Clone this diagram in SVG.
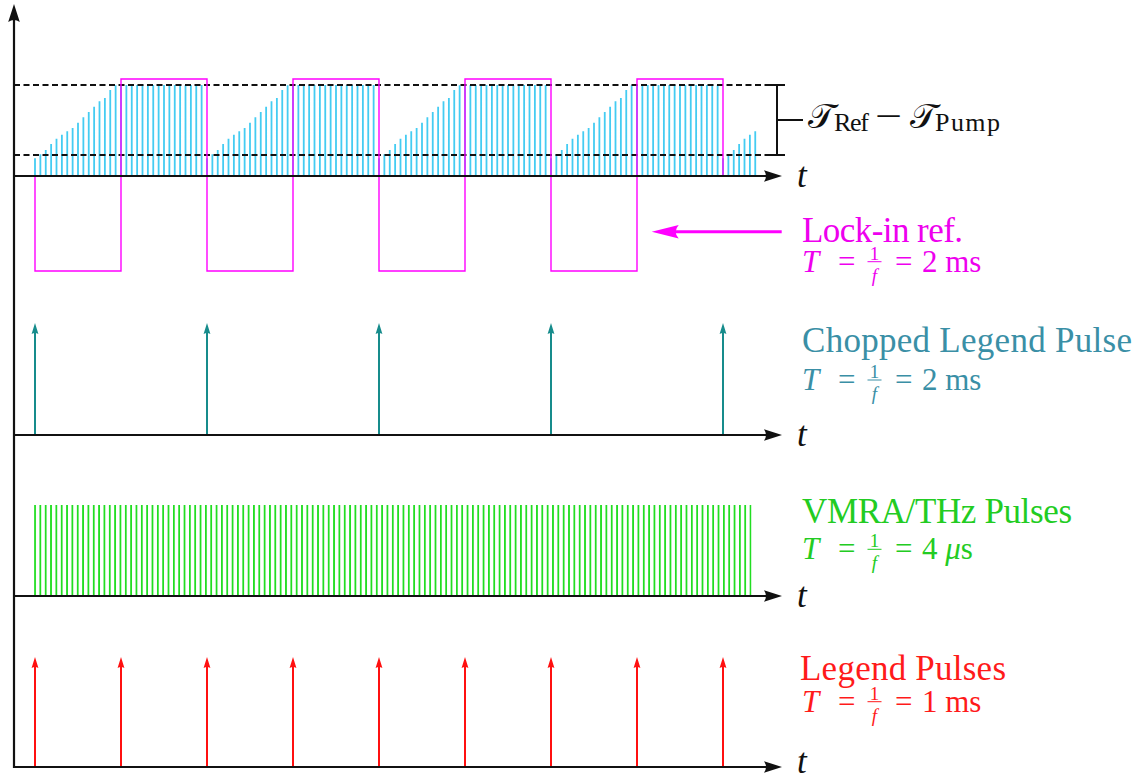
<svg xmlns="http://www.w3.org/2000/svg" width="1141" height="781" viewBox="0 0 1141 781">
  <style>
    .axis{stroke:#111;stroke-width:2.2;fill:none}
    .dash{stroke:#111;stroke-width:2;stroke-dasharray:6 3.5;fill:none}
    .solid{stroke:#111;stroke-width:2;fill:none}
    .serif{font-family:"Liberation Serif","Times New Roman",serif}
    .lbl{font-size:35px}
    .math{font-size:31px}
    .frac{font-size:19px}
    .it{font-style:italic}
    .tlab{font-size:35px;font-style:italic;fill:#111}
    .cal{font-family:"DejaVu Serif","DejaVu Sans","Noto Sans",serif;font-size:35px;fill:#111}
    .sub{font-size:26px;fill:#111}
    .mag{fill:#ee00ee}
    .teal{fill:#3a8fa6}
    .grn{fill:#22cc22}
    .red{fill:#ff1a1a}
  </style>
  <defs>
    <marker id="axHead" markerUnits="userSpaceOnUse" viewBox="-20 -10 30 20" markerWidth="30" markerHeight="20" refX="0" refY="0" orient="auto">
      <path d="M6,0 L-12,-5.8 Q-8,0 -12,5.8 Z" fill="#111"/>
    </marker>
    <marker id="tealHead" markerUnits="userSpaceOnUse" viewBox="-12 -6 18 12" markerWidth="18" markerHeight="12" refX="0" refY="0" orient="auto">
      <path d="M3,0 L-8,-3.4 Q-6,0 -8,3.4 Z" fill="#178c8c"/>
    </marker>
    <marker id="redHead" markerUnits="userSpaceOnUse" viewBox="-12 -6 18 12" markerWidth="18" markerHeight="12" refX="0" refY="0" orient="auto">
      <path d="M3,0 L-8,-3.4 Q-6,0 -8,3.4 Z" fill="#ff1010"/>
    </marker>
    <marker id="magHead" markerUnits="userSpaceOnUse" viewBox="-20 -10 32 20" markerWidth="32" markerHeight="20" refX="0" refY="0" orient="auto">
      <path d="M10,0 L-17,-6.8 Q-11,0 -17,6.8 Z" fill="#ff00ff"/>
    </marker>
    <!-- 250 kHz pulse train: one bar every 5.34 px -->
    <pattern id="thzTrain" patternUnits="userSpaceOnUse" x="34.1" y="505" width="5.34" height="91">
      <rect x="0" y="0" width="1.8" height="91" fill="#22dd22"/>
    </pattern>
  </defs>

  <rect width="1141" height="781" fill="#fff"/>

  <!-- sampled probe signal: ramp while chopper is closed, saturated while open -->
  <g id="probe-samples">
    <path stroke="#44ccf2" stroke-width="1.8" fill="none" d="M35,176V158.3 M40.38,176V154.3 M45.75,176V150 M51.13,176V144 M56.5,176V138.7 M61.88,176V134.7 M67.25,176V131.3 M72.63,176V128 M78,176V122.7 M83.38,176V117.3 M88.75,176V112 M94.13,176V106.7 M99.5,176V101.3 M104.88,176V98 M110.25,176V90 M115.63,176V85.3 M121,176V85 M126.38,176V85 M131.75,176V85 M137.13,176V85 M142.5,176V85 M147.88,176V85 M153.25,176V85 M158.63,176V85 M164,176V85 M169.38,176V85 M174.75,176V85 M180.13,176V85 M185.5,176V85 M190.88,176V85 M196.25,176V85 M201.63,176V85
M207,176V158.3 M212.38,176V154.3 M217.75,176V150 M223.13,176V144 M228.5,176V138.7 M233.88,176V134.7 M239.25,176V131.3 M244.63,176V128 M250,176V122.7 M255.38,176V117.3 M260.75,176V112 M266.13,176V106.7 M271.5,176V101.3 M276.88,176V98 M282.25,176V90 M287.63,176V85.3 M293,176V85 M298.38,176V85 M303.75,176V85 M309.13,176V85 M314.5,176V85 M319.88,176V85 M325.25,176V85 M330.63,176V85 M336,176V85 M341.38,176V85 M346.75,176V85 M352.13,176V85 M357.5,176V85 M362.88,176V85 M368.25,176V85 M373.63,176V85
M379,176V158.3 M384.38,176V154.3 M389.75,176V150 M395.13,176V144 M400.5,176V138.7 M405.88,176V134.7 M411.25,176V131.3 M416.63,176V128 M422,176V122.7 M427.38,176V117.3 M432.75,176V112 M438.13,176V106.7 M443.5,176V101.3 M448.88,176V98 M454.25,176V90 M459.63,176V85.3 M465,176V85 M470.38,176V85 M475.75,176V85 M481.13,176V85 M486.5,176V85 M491.88,176V85 M497.25,176V85 M502.63,176V85 M508,176V85 M513.38,176V85 M518.75,176V85 M524.13,176V85 M529.5,176V85 M534.88,176V85 M540.25,176V85 M545.63,176V85
M551,176V158.3 M556.38,176V154.3 M561.75,176V150 M567.13,176V144 M572.5,176V138.7 M577.88,176V134.7 M583.25,176V131.3 M588.63,176V128 M594,176V122.7 M599.38,176V117.3 M604.75,176V112 M610.13,176V106.7 M615.5,176V101.3 M620.88,176V98 M626.25,176V90 M631.63,176V85.3 M637,176V85 M642.38,176V85 M647.75,176V85 M653.13,176V85 M658.5,176V85 M663.88,176V85 M669.25,176V85 M674.63,176V85 M680,176V85 M685.38,176V85 M690.75,176V85 M696.13,176V85 M701.5,176V85 M706.88,176V85 M712.25,176V85 M717.63,176V85
M723,176V158.3 M728.38,176V154.3 M733.75,176V150 M739.13,176V144 M744.5,176V138.7 M749.88,176V134.7 M755.25,176V131.3"/>
  </g>

  <!-- signal range markers and bracket -->
  <g id="range">
    <path class="dash" d="M14,85H770 M14,155H770"/>
    <path class="solid" d="M769,85H785 M769,155H785 M777,85V155 M777,120H803"/>
    <text class="cal" x="808" y="128">𝒯</text>
    <text class="serif sub" x="834" y="131" textLength="35">Ref</text>
    <text class="serif" x="875" y="128.5" font-size="38" fill="#111" textLength="27" lengthAdjust="spacingAndGlyphs">−</text>
    <text class="cal" x="910" y="128">𝒯</text>
    <text class="serif sub" x="935" y="131" textLength="65">Pump</text>
  </g>

  <!-- lock-in reference square wave -->
  <g id="lockin-ref">
    <path d="M35,176V271H121V79H207V271H293V79H379V271H465V79H551V271H637V79H723V176" fill="none" stroke="#ff00ff" stroke-width="1.4"/>
    <text class="serif lbl mag" x="802" y="241.7" textLength="161">Lock-in ref.</text>
    <g class="serif mag" transform="translate(0,271.7)">
      <text class="math it" x="802" y="0">T</text>
      <text class="math" x="838" y="0">=</text>
      <text class="frac" x="874.5" y="-12" text-anchor="middle">1</text>
      <line x1="867.5" x2="881.5" y1="-10" y2="-10" stroke="#ee00ee" stroke-width="1"/>
      <text class="frac it" x="874.5" y="10" text-anchor="middle">f</text>
      <text class="math" x="895" y="0">=</text>
      <text class="math" x="922" y="0">2 ms</text>
    </g>
  </g>

  <!-- chopped legend pulses -->
  <g id="chopped-pulses">
    <g stroke="#178c8c" stroke-width="2">
      <line x1="35" y1="435" x2="35" y2="326" marker-end="url(#tealHead)"/>
      <line x1="207" y1="435" x2="207" y2="326" marker-end="url(#tealHead)"/>
      <line x1="379" y1="435" x2="379" y2="326" marker-end="url(#tealHead)"/>
      <line x1="551" y1="435" x2="551" y2="326" marker-end="url(#tealHead)"/>
      <line x1="723" y1="435" x2="723" y2="326" marker-end="url(#tealHead)"/>
    </g>
    <text class="serif lbl teal" x="802" y="351.7" textLength="330">Chopped Legend Pulse</text>
    <g class="serif teal" transform="translate(0,390)">
      <text class="math it" x="802" y="0">T</text>
      <text class="math" x="838" y="0">=</text>
      <text class="frac" x="874.5" y="-12" text-anchor="middle">1</text>
      <line x1="867.5" x2="881.5" y1="-10" y2="-10" stroke="#3a8fa6" stroke-width="1"/>
      <text class="frac it" x="874.5" y="10" text-anchor="middle">f</text>
      <text class="math" x="895" y="0">=</text>
      <text class="math" x="922" y="0">2 ms</text>
    </g>
  </g>

  <!-- VMRA / THz pulse train -->
  <g id="thz-pulses">
    <rect x="34.1" y="505" width="717.4" height="91" fill="url(#thzTrain)"/>
    <text class="serif lbl grn" x="802" y="522.7" textLength="270">VMRA/THz Pulses</text>
    <g class="serif grn" transform="translate(0,559.3)">
      <text class="math it" x="802" y="0">T</text>
      <text class="math" x="838" y="0">=</text>
      <text class="frac" x="874.5" y="-12" text-anchor="middle">1</text>
      <line x1="867.5" x2="881.5" y1="-10" y2="-10" stroke="#22cc22" stroke-width="1"/>
      <text class="frac it" x="874.5" y="10" text-anchor="middle">f</text>
      <text class="math" x="895" y="0">=</text>
      <text class="math" x="922" y="0">4 <tspan class="it">μ</tspan>s</text>
    </g>
  </g>

  <!-- legend amplifier pulses -->
  <g id="legend-pulses">
    <g stroke="#ff1010" stroke-width="2">
      <line x1="35" y1="767" x2="35" y2="660" marker-end="url(#redHead)"/>
      <line x1="121" y1="767" x2="121" y2="660" marker-end="url(#redHead)"/>
      <line x1="207" y1="767" x2="207" y2="660" marker-end="url(#redHead)"/>
      <line x1="293" y1="767" x2="293" y2="660" marker-end="url(#redHead)"/>
      <line x1="379" y1="767" x2="379" y2="660" marker-end="url(#redHead)"/>
      <line x1="465" y1="767" x2="465" y2="660" marker-end="url(#redHead)"/>
      <line x1="551" y1="767" x2="551" y2="660" marker-end="url(#redHead)"/>
      <line x1="637" y1="767" x2="637" y2="660" marker-end="url(#redHead)"/>
      <line x1="723" y1="767" x2="723" y2="660" marker-end="url(#redHead)"/>
    </g>
    <text class="serif lbl red" x="800" y="680" textLength="206">Legend Pulses</text>
    <g class="serif red" transform="translate(0,711.7)">
      <text class="math it" x="802" y="0">T</text>
      <text class="math" x="838" y="0">=</text>
      <text class="frac" x="874.5" y="-12" text-anchor="middle">1</text>
      <line x1="867.5" x2="881.5" y1="-10" y2="-10" stroke="#ff1a1a" stroke-width="1"/>
      <text class="frac it" x="874.5" y="10" text-anchor="middle">f</text>
      <text class="math" x="895" y="0">=</text>
      <text class="math" x="922" y="0">1 ms</text>
    </g>
  </g>

  <!-- connectors: time axes, value axis, lock-in pointer -->
  <g id="connectors">
    <line class="axis" x1="14" y1="768" x2="14" y2="10" marker-end="url(#axHead)"/>
    <line class="axis" x1="13" y1="176" x2="776" y2="176" marker-end="url(#axHead)"/>
    <line class="axis" x1="13" y1="435" x2="776" y2="435" marker-end="url(#axHead)"/>
    <line class="axis" x1="13" y1="596" x2="776" y2="596" marker-end="url(#axHead)"/>
    <line class="axis" x1="13" y1="767" x2="776" y2="767" marker-end="url(#axHead)"/>
    <line x1="781.7" y1="231.7" x2="661.7" y2="231.7" stroke="#ff00ff" stroke-width="3" marker-end="url(#magHead)"/>
  </g>

  <!-- time labels -->
  <g id="time-labels" class="serif tlab">
    <text x="797" y="187">t</text>
    <text x="797" y="446">t</text>
    <text x="797" y="607">t</text>
    <text x="797" y="773">t</text>
  </g>
</svg>
